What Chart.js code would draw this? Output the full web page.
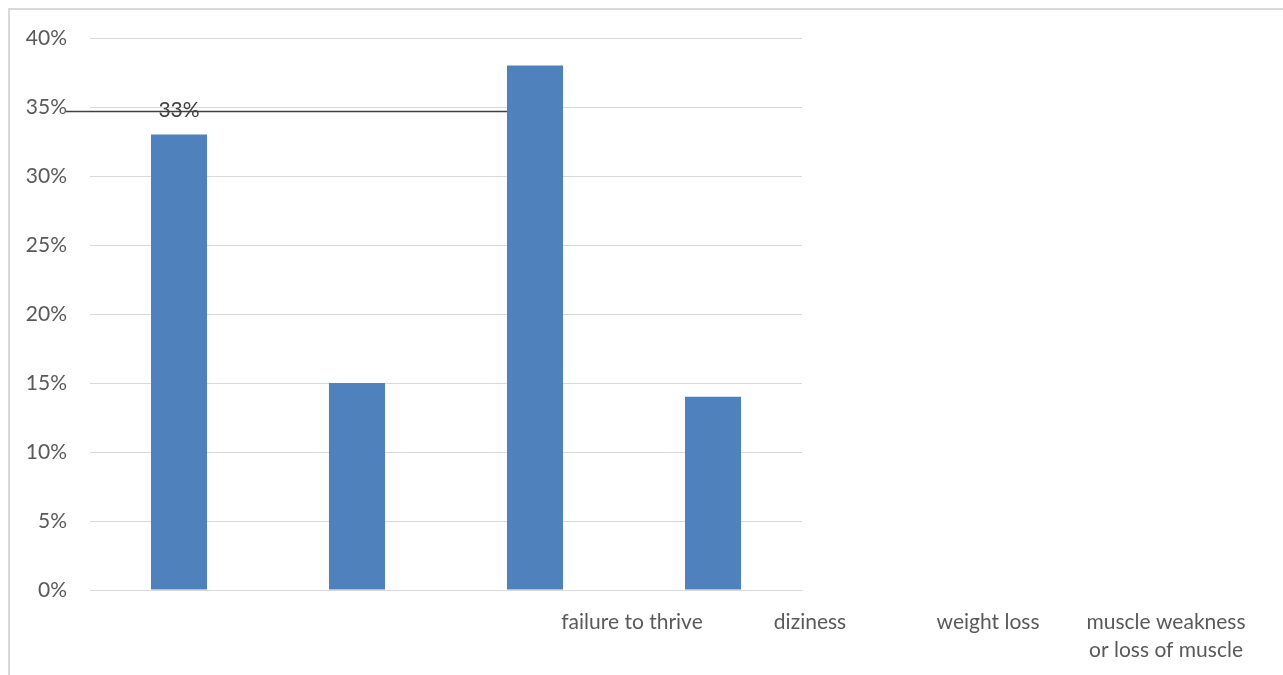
<!DOCTYPE html>
<html>
<head>
<meta charset="utf-8">
<script src="https://cdn.jsdelivr.net/npm/chart.js@4/dist/chart.umd.min.js"></script>
<style>
  body { margin: 0; background: #fff; }
  #wrap { position: relative; width: 1283px; height: 675px; overflow: hidden; }
  #frame { position: absolute; left: 8px; top: 8px; width: 1290px; height: 700px;
           border-top: 2px solid #d9d9d9; border-left: 2px solid #d9d9d9; }
  canvas { position: absolute; left: 0; top: 0; }
</style>
</head>
<body>
<div id="wrap">
  <div id="frame"></div>
  <canvas id="bar" width="1283" height="675"></canvas>
</div>
<script>
// values (percent)
const categories = ['failure to thrive', 'diziness', 'weight loss', ['muscle weakness', 'or loss of muscle']];
const values = [33, 15, 38, 14];
const dataLabels = ['33%', null, null, null];
const yTicks = [0, 5, 10, 15, 20, 25, 30, 35, 40];
const leaderLineValue = 34.7;   // the dark horizontal line through the 33% label

const FONT = 'Lato, "Open Sans", sans-serif';
const textColor = '#595959';

// category labels sit shifted to the right of their bars in the original
const labelShift = 2.545;  // in category widths

const extraText = {
  id: 'extraText',
  afterDatasetsDraw(chart) {
    const ctx = chart.ctx;
    const x = chart.scales.x;
    const y = chart.scales.y;
    const meta = chart.getDatasetMeta(0);
    const catW = x.getPixelForValue(1) - x.getPixelForValue(0);

    // leader line, runs from the tick labels to the left side of the third bar
    const ly = Math.round(y.getPixelForValue(leaderLineValue)) + 0.5;
    const bar3 = meta.data[2];
    ctx.save();
    ctx.strokeStyle = '#404040';
    ctx.lineWidth = 1.5;
    ctx.beginPath();
    ctx.moveTo(chart.chartArea.left - 24, ly);
    ctx.lineTo(bar3.x - bar3.width / 2, ly);
    ctx.stroke();

    // data labels
    ctx.font = '21px ' + FONT;
    ctx.fillStyle = '#404040';
    ctx.textAlign = 'center';
    ctx.textBaseline = 'middle';
    dataLabels.forEach((t, i) => {
      if (!t) return;
      const el = meta.data[i];
      ctx.fillText(t, el.x, el.y - 24);
    });

    // category labels
    ctx.font = '21px ' + FONT;
    ctx.fillStyle = textColor;
    categories.forEach((c, i) => {
      const cx = x.getPixelForValue(i) + labelShift * catW;
      const lines = Array.isArray(c) ? c : [c];
      lines.forEach((ln, j) => {
        ctx.fillText(ln, cx, chart.chartArea.bottom + 32 + j * 28);
      });
    });
    ctx.restore();
  }
};

const chart = new Chart(document.getElementById('bar'), {
  type: 'bar',
  data: {
    labels: categories,
    datasets: [{
      data: values,
      backgroundColor: '#4f81bd',
      barPercentage: 0.315,
      categoryPercentage: 1
    }]
  },
  options: {
    responsive: false,
    animation: false,
    layout: { padding: { left: 8, top: 38, right: 481, bottom: 77 } },
    plugins: { legend: { display: false }, tooltip: { enabled: false } },
    scales: {
      x: {
        ticks: { display: false },
        grid: { display: false },
        border: { display: true, color: '#d9d9d9', width: 1 }
      },
      y: {
        min: 0,
        max: 40,
        afterFit(s) { s.width = 82; },
        afterBuildTicks(s) { s.ticks = yTicks.map(v => ({ value: v })); },
        ticks: {
          padding: 23,
          color: textColor,
          font: { family: FONT, size: 21 },
          callback: v => v + '%'
        },
        grid: { color: '#d9d9d9', drawTicks: false },
        border: { display: false }
      }
    }
  },
  plugins: [extraText]
});
</script>
</body>
</html>
